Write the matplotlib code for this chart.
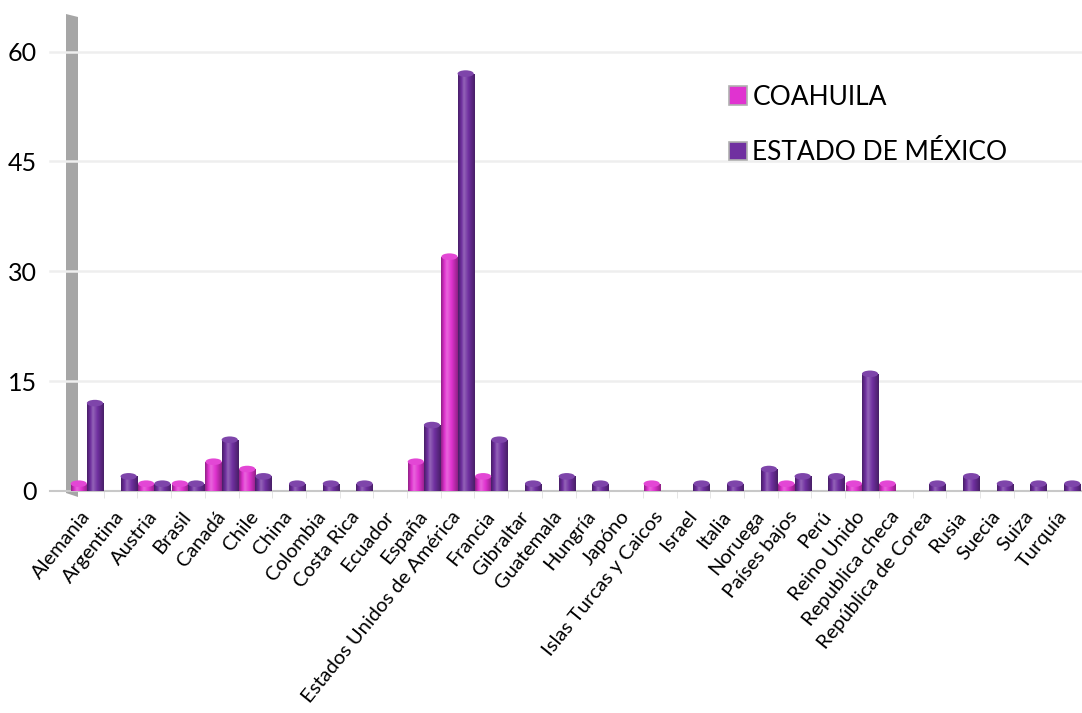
import numpy as np
import matplotlib.pyplot as plt
from matplotlib.patches import Patch, Polygon, Ellipse

paises = ["Alemania", "Argentina", "Austria", "Brasil", "Canadá", "Chile", "China",
          "Colombia", "Costa Rica", "Ecuador", "España", "Estados Unidos de América",
          "Francia", "Gibraltar", "Guatemala", "Hungría", "Japóno",
          "Islas Turcas y Caicos", "Israel", "Italia", "Noruega", "Países bajos",
          "Perú", "Reino Unido", "Republica checa", "República de Corea", "Rusia",
          "Suecia", "Suiza", "Turquía"]
coahuila = [1, 0, 1, 1, 4, 3, 0, 0, 0, 0, 4, 32, 2, 0, 0, 0, 0, 1, 0, 0, 0, 1, 0, 1, 1, 0, 0, 0, 0, 0]
edomex = [12, 2, 1, 1, 7, 2, 1, 1, 1, 0, 9, 57, 7, 1, 2, 1, 0, 0, 1, 1, 3, 2, 2, 16, 0, 1, 2, 1, 1, 1]
yticks = [0, 15, 30, 45, 60]

FONT = ["Lato", "DejaVu Sans"]
plt.rcParams["font.family"] = FONT

PINK = "#E033D0"
PURPLE = "#7030A0"


def shade(color, f):
    c = np.array(plt.matplotlib.colors.to_rgb(color))
    if f >= 0:
        return c + (1 - c) * f
    return c * (1 + f)


def cylinder(ax, bar, color):
    # horizontal gradient to fake the cylinder look
    x0, y0 = bar.get_x(), bar.get_y()
    w, h = bar.get_width(), bar.get_height()
    if h <= 0:
        return
    t = np.linspace(0, 1, 40)
    prof = np.where(t < 0.35, -0.35 + 0.6 * t / 0.35, 0.25 - 0.6 * (t - 0.35) / 0.65)
    img = np.array([[shade(color, p) for p in prof]])
    im = ax.imshow(img, extent=(x0, x0 + w, y0, y0 + h), aspect="auto",
                   interpolation="bilinear", zorder=3)
    im.set_clip_path(bar)
    bar.set_alpha(0)
    cap = Ellipse((x0 + w / 2, y0 + h), w, 0.9, facecolor=shade(color, 0.1),
                  edgecolor="none", zorder=4)
    ax.add_patch(cap)


fig = plt.figure(figsize=(10.82, 7.13), dpi=100)
W, H = 1082, 713
left, right, bottom, top = 70 / W, 1081 / W, (H - 491) / H, (H - 15) / H

# grey side wall, drawn under the axes
wall = Polygon([(66 / W, 1 - 14 / H), (78 / W, 1 - 17 / H), (78 / W, 1 - 497 / H),
                (66 / W, 1 - 493 / H)], closed=True, transform=fig.transFigure,
               facecolor="#A6A6A6", edgecolor="none", zorder=0)
fig.patches.append(wall)

ax = fig.add_axes([left, bottom, right - left, top - bottom])
ax.patch.set_alpha(0)
ax.set_zorder(2)

x = np.arange(len(paises))
bw = 0.48
b1 = ax.bar(x - bw / 2, coahuila, bw, color=PINK, zorder=3)
b2 = ax.bar(x + bw / 2, edomex, bw, color=PURPLE, zorder=3)
for b in b1:
    cylinder(ax, b, PINK)
for b in b2:
    cylinder(ax, b, PURPLE)

ax.set_xlim(-0.5, len(paises) - 0.5)
ax.set_ylim(0, 65)

for v in yticks[1:]:
    ax.plot([-0.02, 1], [v, v], transform=ax.get_yaxis_transform(), color="#EEEEEE",
            lw=1.8, zorder=1, clip_on=False)
ax.plot([-0.02, 1], [0, 0], transform=ax.get_yaxis_transform(), color="#C8C8C8",
        lw=1.5, zorder=2, clip_on=False)

for s in ax.spines.values():
    s.set_visible(False)
ax.set_yticks(yticks)
ax.set_yticklabels([str(v) for v in yticks], fontsize=18)
ax.tick_params(axis="y", length=0, pad=24)
ax.set_xticks(x)
ax.set_xticklabels(paises, rotation=51, ha="right", va="center",
                   rotation_mode="anchor", fontsize=14.5)
ax.tick_params(axis="x", length=0, pad=16)
ax.set_xticks(x[:-1] + 0.5, minor=True)
ax.tick_params(axis="x", which="minor", length=5, color="#E0E0E0")

handles = [Patch(facecolor=PINK, edgecolor="#B0B0B0", lw=1.2),
           Patch(facecolor=PURPLE, edgecolor="#B0B0B0", lw=1.2)]
fig.legend(handles, ["COAHUILA", "ESTADO DE MÉXICO"], loc="upper left",
           bbox_to_anchor=(705 / W, 1 - 61 / H), frameon=False, fontsize=19,
           handlelength=0.7, handleheight=0.7, handletextpad=0.2, labelspacing=1.15)

fig.savefig("out.png", dpi=100)
